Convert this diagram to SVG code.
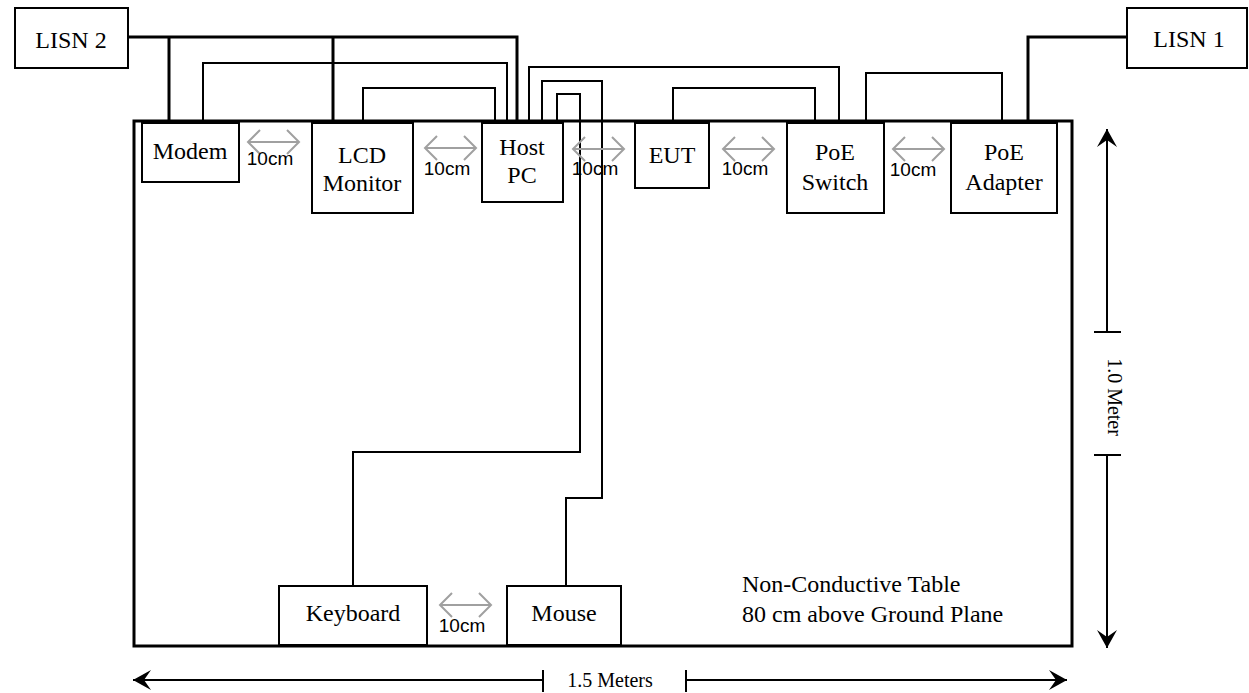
<svg xmlns="http://www.w3.org/2000/svg" width="1249" height="693" viewBox="0 0 1249 693">
<defs>
<style>
.box{fill:#fff;stroke:#000;stroke-width:2}
.t{font-family:"Liberation Serif","Times New Roman",serif;font-size:24px;fill:#000;text-anchor:middle}
.dim{font-family:"Liberation Serif","Times New Roman",serif;font-size:20px;fill:#000;text-anchor:middle}
.cm{font-family:"Liberation Sans",Arial,sans-serif;font-size:19px;fill:#000;text-anchor:middle}
.thick{fill:none;stroke:#000;stroke-width:3}
.thin{fill:none;stroke:#000;stroke-width:2}
.gap{fill:none;stroke:#a0a0a0;stroke-width:2}
.dl{fill:none;stroke:#000;stroke-width:2}
</style>
<marker id="ah" viewBox="0 0 20 20" refX="18" refY="10" markerWidth="20" markerHeight="20" markerUnits="userSpaceOnUse" orient="auto">
<path d="M18,10 L0,0 L7,10 L0,20 Z" fill="#000"/>
</marker>
</defs>
<rect width="1249" height="693" fill="#fff"/>

<g id="table">
<rect x="134" y="121" width="938" height="525" fill="none" stroke="#000" stroke-width="3"/>
<text class="t" x="742" y="592" style="text-anchor:start">Non-Conductive Table</text>
<text class="t" x="742" y="622" style="text-anchor:start">80 cm above Ground Plane</text>
</g>

<g id="connectors">
<path class="thick" d="M128,37 H517 V121"/>
<path class="thick" d="M169,37 V121"/>
<path class="thick" d="M333,37 V121"/>
<path class="thick" d="M1127,37 H1028 V121"/>
<path class="thin" d="M203,121 V63 H507 V121"/>
<path class="thin" d="M363,121 V88 H495 V121"/>
<path class="thin" d="M529,121 V67 H839 V121"/>
<path class="thin" d="M673,121 V88 H815 V121"/>
<path class="thin" d="M866,121 V73 H1002 V121"/>
<path class="thin" d="M542,121 V81 H602 V498 H566 V586"/>
<path class="thin" d="M557,121 V94 H580 V452 H353 V586"/>
</g>

<g id="lisn2"><rect class="box" x="15" y="8" width="113" height="60"/><text class="t" x="71" y="48">LISN 2</text></g>
<g id="lisn1"><rect class="box" x="1127" y="8" width="120" height="60"/><text class="t" x="1189" y="47">LISN 1</text></g>
<g id="modem"><rect class="box" x="142" y="123" width="97" height="59"/><text class="t" x="190" y="159">Modem</text></g>
<g id="lcd"><rect class="box" x="312" y="123" width="101" height="90"/><text class="t" x="362" y="163">LCD</text><text class="t" x="362" y="191">Monitor</text></g>
<g id="host"><rect class="box" x="482" y="123" width="81" height="79"/><text class="t" x="522" y="155">Host</text><text class="t" x="522" y="183">PC</text></g>
<g id="eut"><rect class="box" x="635" y="123" width="74" height="65"/><text class="t" x="672" y="163">EUT</text></g>
<g id="switch"><rect class="box" x="787" y="123" width="97" height="90"/><text class="t" x="835" y="160">PoE</text><text class="t" x="835" y="190">Switch</text></g>
<g id="adapter"><rect class="box" x="951" y="123" width="106" height="90"/><text class="t" x="1004" y="160">PoE</text><text class="t" x="1004" y="190">Adapter</text></g>
<g id="keyboard"><rect class="box" x="279" y="586" width="148" height="59"/><text class="t" x="353" y="621">Keyboard</text></g>
<g id="mouse"><rect class="box" x="507" y="586" width="114" height="59"/><text class="t" x="564" y="621">Mouse</text></g>

<g id="spacing">
<path class="gap" d="M248,142 H299 M260,130 L248,142 L260,154 M287,130 L299,142 L287,154"/>
<text class="cm" x="270" y="165">10cm</text>
<path class="gap" d="M425,148 H476 M437,136 L425,148 L437,160 M464,136 L476,148 L464,160"/>
<text class="cm" x="447" y="175">10cm</text>
<path class="gap" d="M573,149 H624 M585,137 L573,149 L585,161 M612,137 L624,149 L612,161"/>
<text class="cm" x="595" y="175">10cm</text>
<path class="gap" d="M723,149 H774 M735,137 L723,149 L735,161 M762,137 L774,149 L762,161"/>
<text class="cm" x="745" y="175">10cm</text>
<path class="gap" d="M893,149 H944 M905,137 L893,149 L905,161 M932,137 L944,149 L932,161"/>
<text class="cm" x="913" y="176">10cm</text>
<path class="gap" d="M440,605 H491 M452,593 L440,605 L452,617 M479,593 L491,605 L479,617"/>
<text class="cm" x="462" y="632">10cm</text>
</g>

<g id="dim-height">
<path class="dl" d="M1107,332 V129" marker-end="url(#ah)"/>
<path class="dl" d="M1094,332 H1121"/>
<path class="dl" d="M1107,455 V648" marker-end="url(#ah)"/>
<path class="dl" d="M1094,455 H1121"/>
<text class="dim" transform="translate(1108,397) rotate(90)" x="0" y="0">1.0 Meter</text>
</g>

<g id="dim-width">
<path class="dl" d="M543,680 H133" marker-end="url(#ah)"/>
<path class="dl" d="M543,670 V692"/>
<path class="dl" d="M686,680 H1067" marker-end="url(#ah)"/>
<path class="dl" d="M686,670 V692"/>
<text class="dim" x="610" y="687">1.5 Meters</text>
</g>
</svg>
